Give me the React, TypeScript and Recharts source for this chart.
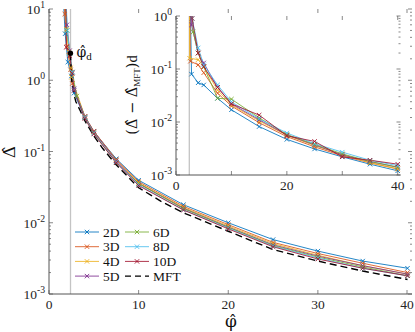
import React from 'react'
import { LineChart, Line, XAxis, YAxis, ReferenceLine, ReferenceDot } from 'recharts'

// series names and colours (MATLAB default order)
const dims = ['2D', '3D', '4D', '5D', '6D', '8D', '10D']
const colors = ['#0072BD', '#D95319', '#EDB120', '#7E2F8E', '#77AC30', '#4DBEEE', '#A2142F']

// main panel: Delta-hat vs phi-hat
const phi2D = [1.6, 1.8, 2.1, 2.5, 2.8, 4, 5, 7.5, 10, 15, 20, 25, 30, 35, 40]
const delta2D = [14, 4.5, 1.8, 1.15, 0.66, 0.3, 0.19, 0.079, 0.0395, 0.0179, 0.01, 0.0058, 0.004, 0.0029, 0.0023]
const phi3D = [1.6, 1.76, 2.0, 2.4, 2.6, 4, 5, 7.5, 10, 15, 20, 25, 30, 35, 40]
const delta3D = [20, 8.5, 3, 1.4, 0.9, 0.31, 0.193, 0.077, 0.0377, 0.017, 0.0094, 0.0053, 0.0037, 0.0027, 0.002]
const phi4D = [1.7, 1.94, 2.2, 2.45, 2.5, 4, 5, 7.5, 10, 15, 20, 25, 30, 35, 40]
const delta4D = [20, 5.2, 2.5, 1.5, 1.1, 0.31, 0.19, 0.075, 0.0363, 0.0164, 0.009, 0.0051, 0.0035, 0.0025, 0.0019]
const phi5D = [1.8, 2.0, 2.3, 2.6, 2.8, 4, 5, 7.5, 10, 15, 20, 25, 30, 35, 40]
const delta5D = [20, 6, 2.6, 1.3, 0.76, 0.31, 0.191, 0.074, 0.0354, 0.016, 0.0087, 0.0049, 0.0034, 0.0025, 0.0019]
const phi6D = [1.8, 2.0, 2.3, 2.6, 3.1, 4, 5, 7.5, 10, 15, 20, 25, 30, 35, 40]
const delta6D = [20, 5, 2.4, 1.3, 0.6, 0.3, 0.183, 0.07, 0.0355, 0.0158, 0.0086, 0.0048, 0.0033, 0.0024, 0.0018]
const phi8D = [1.85, 2.05, 2.3, 2.6, 2.8, 4, 5, 7.5, 10, 15, 20, 25, 30, 35, 40]
const delta8D = [20, 5, 2.4, 1.3, 0.73, 0.3, 0.18, 0.071, 0.034, 0.0152, 0.0084, 0.0047, 0.0032, 0.0023, 0.0018]
const phi10D = [1.85, 1.94, 2.3, 2.6, 2.8, 4, 5, 7.5, 10, 15, 20, 25, 30, 35, 40]
const delta10D = [20, 2.9, 2.2, 1.25, 0.72, 0.29, 0.176, 0.0695, 0.0332, 0.0151, 0.0082, 0.0046, 0.0031, 0.0023, 0.0018]

const phiMFT = [2.4, 2.45, 2.5, 2.6, 2.8, 3, 3.5, 4, 5, 6, 7.5, 10, 12.5, 15, 20, 25, 30, 35, 40]
const deltaMFT = [2.4, 1.5, 1.1, 0.85, 0.62, 0.5, 0.37, 0.27, 0.165, 0.11, 0.065, 0.031, 0.02, 0.0138, 0.0076, 0.0042, 0.0029, 0.0021, 0.0016]

// inset: (Delta - Delta_MFT) * d
const insPhi2D = [2.5, 2.8, 4, 5, 7.5, 10, 15, 20, 25, 30, 35, 40]
const ins2D = [5, 0.08, 0.055, 0.05, 0.028, 0.017, 0.0082, 0.0047, 0.0031, 0.0022, 0.0016, 0.0012]
const insPhi3D = [2.45, 2.6, 4, 5, 7.5, 10, 15, 20, 25, 30, 35, 40]
const ins3D = [5, 0.14, 0.12, 0.085, 0.035, 0.02, 0.0097, 0.0053, 0.0034, 0.0023, 0.0017, 0.0013]
const insPhi4D = [2.42, 2.45, 4, 5, 7.5, 10, 15, 20, 25, 30, 35, 40]
const ins4D = [5, 0.16, 0.15, 0.11, 0.04, 0.021, 0.0105, 0.0056, 0.0036, 0.0024, 0.0017, 0.0013]
const insPhi5D = [2.6, 2.8, 4, 5, 7.5, 10, 15, 20, 25, 30, 35, 40]
const ins5D = [5, 0.68, 0.2, 0.13, 0.045, 0.022, 0.011, 0.0057, 0.0037, 0.0024, 0.0018, 0.0014]
const insPhi6D = [2.7, 3.1, 4, 5, 7.5, 10, 15, 20, 25, 30, 35, 40]
const ins6D = [5, 0.5, 0.2, 0.11, 0.028, 0.027, 0.012, 0.0058, 0.0038, 0.0025, 0.0018, 0.0014]
const insPhi8D = [2.7, 2.9, 4, 5, 7.5, 10, 15, 20, 25, 30, 35, 40]
const ins8D = [5, 0.9, 0.25, 0.12, 0.05, 0.024, 0.0115, 0.0062, 0.0039, 0.0027, 0.0019, 0.0015]
const insPhi10D = [2.7, 2.9, 4, 5, 7.5, 10, 15, 20, 25, 30, 35, 40]
const ins10D = [5, 0.9, 0.2, 0.11, 0.045, 0.022, 0.0135, 0.0055, 0.0043, 0.0022, 0.0019, 0.0016]

const phiD = 2.4
const deltaD = 2.4

const xTicksMain = [0, 10, 20, 30, 40]
const xTicksInset = [0, 10, 20, 30, 40]
const xLabelsInset = [0, 20, 40]

const pts = (xs: number[], ys: number[]) => xs.map((x, i) => ({ phi: x, v: ys[i] }))

const mainSeries = [
  pts(phi2D, delta2D), pts(phi3D, delta3D), pts(phi4D, delta4D), pts(phi5D, delta5D),
  pts(phi6D, delta6D), pts(phi8D, delta8D), pts(phi10D, delta10D),
]
const insetSeries = [
  pts(insPhi2D, ins2D), pts(insPhi3D, ins3D), pts(insPhi4D, ins4D), pts(insPhi5D, ins5D),
  pts(insPhi6D, ins6D), pts(insPhi8D, ins8D), pts(insPhi10D, ins10D),
]
const mftSeries = pts(phiMFT, deltaMFT)

const logTicks = (lo: number, hi: number) => {
  const out: number[] = []
  for (let e = lo; e < hi; e++) for (let m = 1; m < 10; m++) out.push(m * Math.pow(10, e))
  out.push(Math.pow(10, hi))
  return out
}

const axisColor = '#555'
const serif = { fontFamily: 'Times New Roman, Liberation Serif, serif' }
const hatFont = { fontFamily: 'DejaVu Serif, serif' }

const Cross = (props: any) => {
  const { cx, cy, stroke } = props
  if (cx == null || cy == null) return null
  const s = 2.2
  return (
    <path d={`M${cx - s},${cy - s}L${cx + s},${cy + s}M${cx - s},${cy + s}L${cx + s},${cy - s}`}
      stroke={stroke} strokeWidth={0.9} fill="none" />
  )
}

const makeYTick = (left: number, right: number, fs: number) => (props: any) => {
  const { x, y, payload } = props
  const v = payload.value
  const e = Math.round(Math.log10(v))
  const major = Math.abs(v - Math.pow(10, e)) < 1e-6 * v
  const len = major ? 4 : 2
  return (
    <g>
      <line x1={left} x2={left + len} y1={y} y2={y} stroke={axisColor} strokeWidth={0.7} />
      <line x1={right - len} x2={right} y1={y} y2={y} stroke={axisColor} strokeWidth={0.7} />
      {major && (
        <text x={x} y={y} dy={5} textAnchor="end" fontSize={fs} style={serif} fill="#262626">
          10<tspan dy={-6} fontSize={fs * 0.72}>{e}</tspan>
        </text>
      )}
    </g>
  )
}

const makeXTick = (top: number, bottom: number, fs: number, labels: number[]) => (props: any) => {
  const { x, y, payload } = props
  return (
    <g>
      <line x1={x} x2={x} y1={bottom} y2={bottom - 4} stroke={axisColor} strokeWidth={0.7} />
      <line x1={x} x2={x} y1={top} y2={top + 4} stroke={axisColor} strokeWidth={0.7} />
      {labels.includes(payload.value) && (
        <text x={x} y={y} dy={13} textAnchor="middle" fontSize={fs} style={serif} fill="#262626">
          {payload.value}
        </text>
      )}
    </g>
  )
}

const DLabel = (props: any) => {
  const { viewBox } = props
  const x = viewBox.x + viewBox.width / 2
  const y = viewBox.y + viewBox.height / 2
  return (
    <text x={x + 6} y={y + 4} fontSize={14} style={hatFont} fill="#111">
      φ̂<tspan dy={3} fontSize={11} style={serif}>d</tspan>
    </text>
  )
}

const Legend = () => {
  const rows = 4
  return (
    <svg width={140} height={70} style={{ position: 'absolute', left: 70, top: 224 }}>
      {dims.concat(['MFT']).map((name, i) => {
        const col = Math.floor(i / rows)
        const row = i % rows
        const x0 = 5 + col * 50
        const y = 8 + row * 14.7
        const isMFT = name === 'MFT'
        return (
          <g key={name}>
            <line x1={x0} x2={x0 + 24} y1={y} y2={y} stroke={isMFT ? '#000' : colors[i]}
              strokeWidth={isMFT ? 1.4 : 1} strokeDasharray={isMFT ? '6 4' : undefined} strokeOpacity={isMFT ? 1 : 0.85} />
            {!isMFT && <Cross cx={x0 + 12} cy={y} stroke={colors[i]} />}
            <text x={x0 + 28} y={y + 4.5} fontSize={13.5} style={serif} fill="#111">{name}</text>
          </g>
        )
      })}
    </svg>
  )
}

export default function App() {
  const mainL = 49, mainR = 412, mainT = 9, mainB = 294
  const insL = 176, insR = 400.5, insT = 16, insB = 175
  return (
    <div style={{ position: 'absolute', left: 0, top: 0, width: 415, height: 332, background: '#fff' }}>
      <div style={{ position: 'absolute', left: 0, top: 0 }}>
        <LineChart width={415} height={332} margin={{ top: mainT, right: 415 - mainR, left: 9, bottom: 0 }}>
          <XAxis xAxisId="b" dataKey="phi" type="number" domain={[0, 40.5]} allowDataOverflow ticks={xTicksMain}
            height={332 - mainB} tickLine={false} tickSize={0} stroke={axisColor}
            tick={makeXTick(mainT, mainB, 13.5, xTicksMain)} />
          <XAxis xAxisId="t" orientation="top" type="number" domain={[0, 40.5]} height={0} tick={false} tickLine={false} stroke={axisColor} />
          <YAxis yAxisId="l" scale="log" type="number" domain={[0.001, 10]} allowDataOverflow ticks={logTicks(-3, 1)}
            width={mainL - 9} interval={0} tickLine={false} tickSize={0} tickMargin={4} stroke={axisColor}
            tick={makeYTick(mainL, mainR, 13.5)} />
          <YAxis yAxisId="r" orientation="right" width={0} tick={false} tickLine={false} stroke={axisColor} />
          <ReferenceLine xAxisId="b" yAxisId="l" x={phiD} stroke="#c4c4c4" strokeWidth={1.3} />
          {mainSeries.map((d, i) => (
            <Line key={dims[i]} xAxisId="b" yAxisId="l" data={d} dataKey="v" stroke={colors[i]} strokeWidth={1}
              strokeOpacity={0.85} dot={<Cross />} isAnimationActive={false} />
          ))}
          <Line xAxisId="b" yAxisId="l" data={mftSeries} dataKey="v" stroke="#000" strokeWidth={1.4}
            strokeDasharray="7 4" dot={false} isAnimationActive={false} />
          <ReferenceDot xAxisId="b" yAxisId="l" x={phiD} y={deltaD} r={2.6} fill="#000" stroke="none" label={<DLabel />} />
        </LineChart>
      </div>
      <div style={{ position: 'absolute', left: 0, top: 0 }}>
        <LineChart width={415} height={200} margin={{ top: insT, right: 415 - insR, left: insL - 40, bottom: 0 }}>
          <XAxis xAxisId="b" dataKey="phi" type="number" domain={[0, 40.5]} allowDataOverflow ticks={xTicksInset}
            height={200 - insB} tickLine={false} tickSize={0} stroke={axisColor}
            tick={makeXTick(insT, insB, 13.5, xLabelsInset)} />
          <XAxis xAxisId="t" orientation="top" type="number" domain={[0, 40.5]} height={0} tick={false} tickLine={false} stroke={axisColor} />
          <YAxis yAxisId="l" scale="log" type="number" domain={[0.001, 1]} allowDataOverflow ticks={logTicks(-3, 0)}
            width={40} interval={0} tickLine={false} tickSize={0} tickMargin={4} stroke={axisColor}
            tick={makeYTick(insL, insR, 13.5)} />
          <YAxis yAxisId="r" orientation="right" width={0} tick={false} tickLine={false} stroke={axisColor} />
          <ReferenceLine xAxisId="b" yAxisId="l" x={phiD} stroke="#c4c4c4" strokeWidth={1.3} />
          {insetSeries.map((d, i) => (
            <Line key={dims[i]} xAxisId="b" yAxisId="l" data={d} dataKey="v" stroke={colors[i]} strokeWidth={1}
              strokeOpacity={0.85} dot={<Cross />} isAnimationActive={false} />
          ))}
        </LineChart>
      </div>
      <svg width={415} height={332} style={{ position: 'absolute', left: 0, top: 0, pointerEvents: 'none' }}>
        <text transform="translate(15,152) rotate(-90)" textAnchor="middle" fontSize={17} style={hatFont} fill="#111">Δ̂</text>
        <text x={231} y={327} textAnchor="middle" fontSize={17} style={hatFont} fill="#111">φ̂</text>
        <text transform="translate(137,95) rotate(-90)" textAnchor="middle" fontSize={14.5} style={hatFont} fill="#111">
          (Δ̂ − Δ̂<tspan dy={3} fontSize={9} style={serif}>MFT</tspan><tspan dy={-3}>)</tspan><tspan style={serif}>d</tspan>
        </text>
      </svg>
      <Legend />
    </div>
  )
}
